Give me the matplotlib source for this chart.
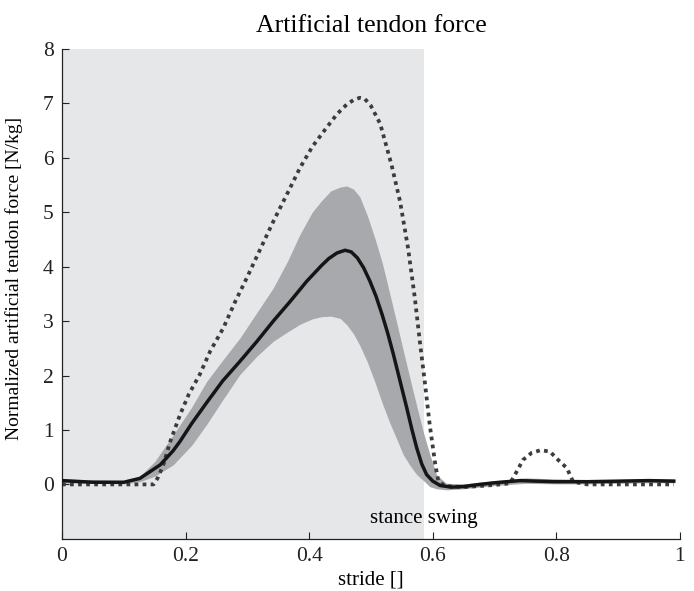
import matplotlib
matplotlib.use('Agg')
import matplotlib.pyplot as plt

plt.rcParams['font.family'] = ['Liberation Serif', 'DejaVu Serif']

# stance / swing boundary (fraction of stride)
stance_end = 0.586

# mean artificial tendon force (solid)
mean_x = [0.0, 0.05, 0.10, 0.126, 0.159, 0.18, 0.191, 0.21, 0.234, 0.26, 0.288, 0.315, 0.342, 0.37,
          0.396, 0.42, 0.432, 0.445, 0.458, 0.468, 0.478, 0.488, 0.498, 0.508, 0.518, 0.527,
          0.536, 0.547, 0.558, 0.566, 0.574, 0.582, 0.59, 0.60, 0.612, 0.63, 0.649, 0.676,
          0.70, 0.741, 0.795, 0.85, 0.90, 0.95, 0.99]
mean_y = [0.07, 0.04, 0.04, 0.11, 0.36, 0.62, 0.79, 1.12, 1.50, 1.90, 2.26, 2.62, 3.0, 3.37,
          3.73, 4.02, 4.15, 4.25, 4.30, 4.27, 4.16, 3.98, 3.74, 3.46, 3.12, 2.78,
          2.40, 1.90, 1.40, 1.02, 0.67, 0.38, 0.18, 0.06, -0.02, -0.05, -0.04, 0.0,
          0.03, 0.07, 0.05, 0.05, 0.06, 0.07, 0.06]

# +/- band around the mean
band_x = [0.0, 0.10, 0.126, 0.15, 0.18, 0.21, 0.234, 0.26, 0.288, 0.315, 0.342, 0.365, 0.385,
          0.405, 0.42, 0.435, 0.45, 0.461, 0.472, 0.482, 0.494, 0.506, 0.518, 0.53, 0.541,
          0.552, 0.563, 0.574, 0.585, 0.595, 0.606, 0.622, 0.65, 0.70, 0.75, 0.80, 0.85,
          0.90, 0.95, 0.99]
band_hi = [0.10, 0.07, 0.15, 0.42, 0.91, 1.42, 1.89, 2.28, 2.69, 3.15, 3.61, 4.10, 4.59,
           5.00, 5.21, 5.39, 5.46, 5.48, 5.42, 5.28, 4.94, 4.53, 4.08, 3.52, 3.00,
           2.47, 1.95, 1.44, 0.95, 0.56, 0.18, 0.02, 0.01, 0.07, 0.12, 0.10, 0.09,
           0.09, 0.10, 0.10]
band_lo = [0.03, 0.01, 0.05, 0.15, 0.36, 0.72, 1.10, 1.55, 2.02, 2.35, 2.63, 2.80, 2.94,
           3.04, 3.08, 3.09, 3.05, 2.93, 2.76, 2.55, 2.25, 1.89, 1.50, 1.14, 0.85,
           0.55, 0.35, 0.18, 0.07, -0.04, -0.08, -0.10, -0.08, -0.02, 0.02, 0.01, 0.01,
           0.02, 0.03, 0.03]

# dotted curve
dot_x = [0.0, 0.148, 0.155, 0.164, 0.175, 0.191, 0.205, 0.223, 0.24, 0.261, 0.28, 0.299, 0.32,
         0.342, 0.365, 0.385, 0.405, 0.428, 0.445, 0.461, 0.472, 0.482, 0.49, 0.50, 0.515,
         0.533, 0.547, 0.56, 0.571, 0.579, 0.587, 0.595, 0.604, 0.609, 0.62, 0.65, 0.70,
         0.725, 0.736, 0.746, 0.76, 0.775, 0.79, 0.80, 0.817, 0.827, 0.85, 0.99]
dot_y = [0.0, 0.0, 0.12, 0.36, 0.78, 1.28, 1.65, 2.02, 2.45, 2.87, 3.35, 3.79, 4.30,
         4.83, 5.35, 5.81, 6.20, 6.55, 6.80, 6.98, 7.06, 7.10, 7.08, 6.95, 6.62,
         5.88, 5.20, 4.34, 3.42, 2.63, 1.89, 1.10, 0.37, 0.06, -0.03, -0.05, -0.01,
         0.02, 0.24, 0.45, 0.58, 0.63, 0.60, 0.48, 0.30, 0.05, 0.0, 0.0]

xticks = [0, 0.2, 0.4, 0.6, 0.8, 1]
xtick_labels = ['0', '0.2', '0.4', '0.6', '0.8', '1']
yticks = [0, 1, 2, 3, 4, 5, 6, 7, 8]

fig = plt.figure(figsize=(6.94, 5.91), dpi=100)
ax = fig.add_axes([0.0893, 0.0882, 0.8905, 0.8293])

ax.axvspan(0, stance_end, color='#e6e7e8', lw=0, zorder=0)
ax.fill_between(band_x, band_lo, band_hi, color='#a7a9ac', lw=0, zorder=1)
ax.plot(dot_x, dot_y, color='#3c3c3c', lw=2.7, linestyle=(0, (1.0, 1.15)),
        dash_capstyle='butt', zorder=2)
ax.plot(mean_x, mean_y, color='#151515', lw=2.5, zorder=3)

ax.text(stance_end, -0.62, 'stance swing', ha='center', va='center', fontsize=15)

ax.set_xlim(0, 1)
ax.set_ylim(-1, 8)
ax.set_xticks(xticks)
ax.set_xticklabels(xtick_labels)
ax.set_yticks(yticks)
ax.tick_params(direction='in', length=5, width=0.8, labelsize=15.5, colors='#222222', pad=6)
for s in ['top', 'right']:
    ax.spines[s].set_visible(False)
for s in ['left', 'bottom']:
    ax.spines[s].set_color('#222222')
    ax.spines[s].set_linewidth(0.9)

ax.set_title('Artificial tendon force', fontsize=18.5, pad=12)
ax.set_xlabel('stride []', fontsize=15, labelpad=3)
ax.set_ylabel('Normalized artificial tendon force [N/kg]', fontsize=14)
ax.yaxis.set_label_coords(-0.063, 0.532)

plt.savefig('out.png', dpi=100)
